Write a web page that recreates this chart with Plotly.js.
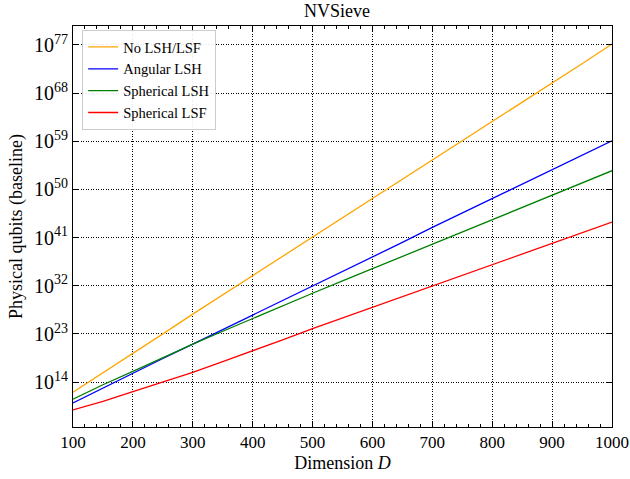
<!DOCTYPE html>
<html><head><meta charset="utf-8">
<script src="https://cdn.plot.ly/plotly-3.0.1.min.js"></script>
<style>html,body{margin:0;padding:0;background:#fff}#chart{width:630px;height:479px}</style>
</head><body><div id="chart"></div>
<script>
const dims = [100,150,200,250,300,350,400,450,500,550,600,650,700,750,800,850,900,950,1000];
const logNoLSH = [12.1,15.7,19.4,23.0,26.7,30.3,33.9,37.5,41.1,44.6,48.2,51.8,55.4,59.0,62.6,66.2,69.8,73.5,77.2];
const logAngular = [10.1,12.9,15.6,18.4,21.1,23.8,26.5,29.2,32.0,34.7,37.4,40.1,42.9,45.6,48.3,51.0,53.7,56.4,59.1];
const logSphLSH = [10.8,13.5,16.0,18.6,21.1,23.5,25.9,28.3,30.6,32.9,35.2,37.5,39.8,42.1,44.4,46.6,48.9,51.2,53.5];
const logSphLSF = [8.8,10.4,12.2,14.0,15.8,17.8,19.8,21.9,24.0,26.0,28.0,30.0,32.0,34.0,36.0,37.9,39.9,41.9,43.9];
const seriesNames = ["No LSH/LSF","Angular LSH","Spherical LSH","Spherical LSF"];
const seriesColors = ["orange","blue","green","red"];
const xTicks = [100,200,300,400,500,600,700,800,900,1000];
const yTickExps = [14,23,32,41,50,59,68,77];

const logs = [logNoLSH, logAngular, logSphLSH, logSphLSF];
const traces = logs.map((arr,i)=>({
  x: dims, y: arr.map(v=>Math.pow(10,v)), type:'scatter', mode:'lines',
  name: seriesNames[i], line:{color: seriesColors[i], width:1.3}
}));
const font = "'Liberation Serif', 'DejaVu Serif', serif";
const layout = {
  width:630, height:479,
  margin:{l:73,r:18,t:26,b:52},
  paper_bgcolor:'#fff', plot_bgcolor:'#fff',
  font:{family:font, size:16, color:'#000'},
  title:{text:'NVSieve', x:0.535, xanchor:'center', y:0.99, yanchor:'top', font:{family:font,size:18}},
  showlegend:true,
  legend:{x:0.017, y:0.99, xanchor:'left', yanchor:'top', bgcolor:'rgba(255,255,255,0.9)', bordercolor:'#cccccc', borderwidth:1,
    font:{family:font,size:14.5}, tracegroupgap:0, itemwidth:30},
  xaxis:{range:[100,1000], tickvals:xTicks, ticks:'inside', ticklen:6, tickcolor:'#000',
    showline:true, linecolor:'#000', linewidth:1, mirror:'ticks', showgrid:true, gridcolor:'#000', griddash:'1px,1.5px', gridwidth:1,
    zeroline:false, tickfont:{family:font,size:17},
    minor:{dtick:20, ticks:'inside', ticklen:3, tickcolor:'#000', showgrid:false},
    title:{text:'Dimension <i>D</i>', font:{family:font,size:18}, standoff:4}},
  yaxis:{type:'log', range:[5.6,80.55], tickvals:yTickExps.map(e=>Math.pow(10,e)), ticktext:yTickExps.map(e=>'10<sup>'+e+'</sup>'),
    ticks:'inside', ticklen:6, tickcolor:'#000', showline:true, linecolor:'#000', linewidth:1, mirror:'ticks',
    showgrid:true, gridcolor:'#000', griddash:'1px,1.5px', gridwidth:1, zeroline:false, tickfont:{family:font,size:20},
    title:{text:'Physical qubits (baseline)', font:{family:font,size:18}, standoff:6}}
};
Plotly.newPlot('chart', traces, layout, {staticPlot:true, displayModeBar:false});
</script></body></html>
